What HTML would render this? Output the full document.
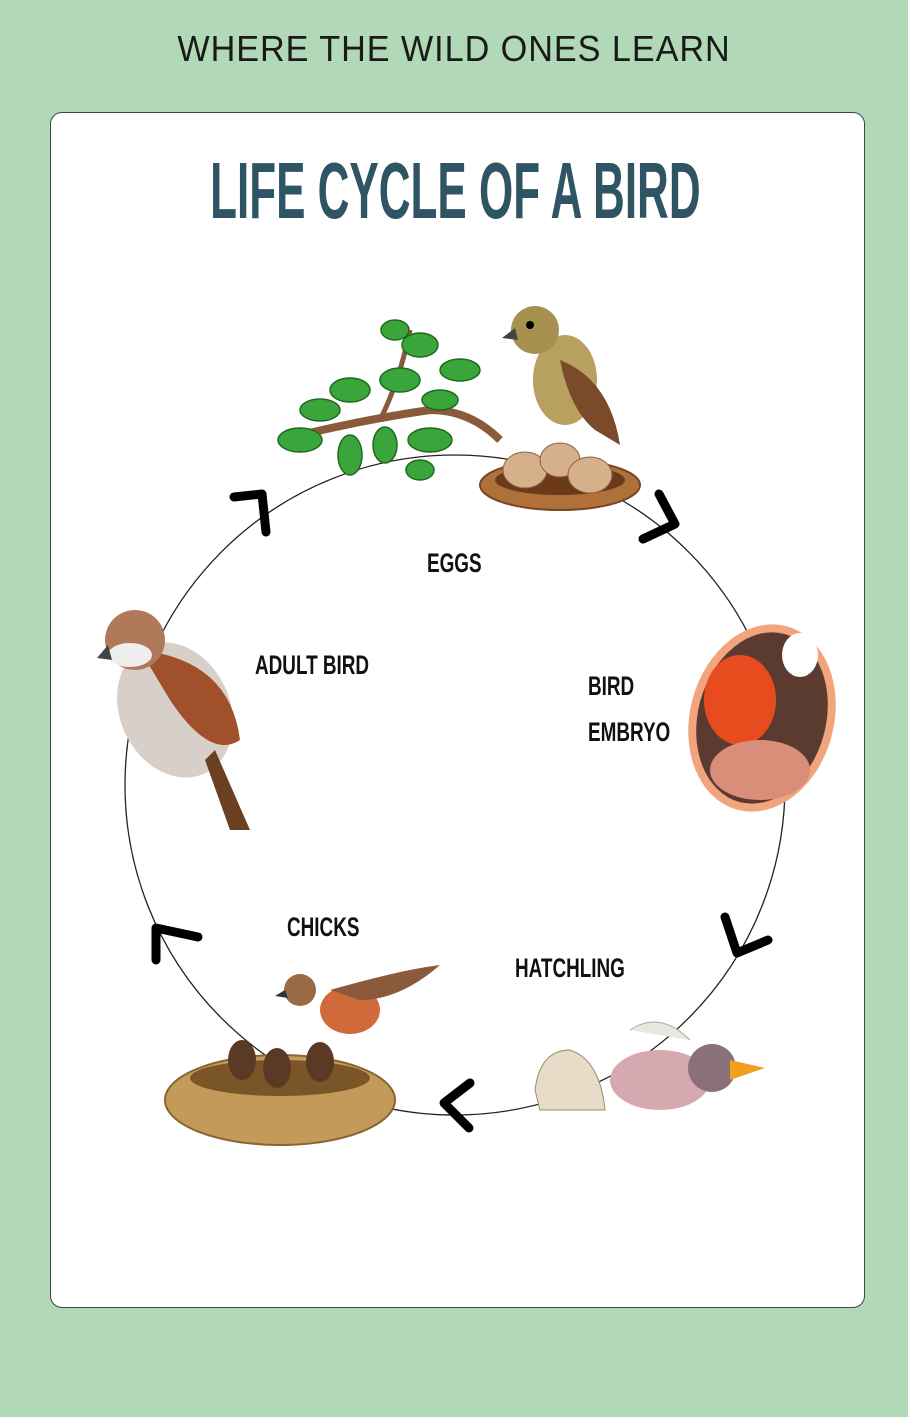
<!DOCTYPE html>
<html><head><meta charset="utf-8"><style>
html,body{margin:0;padding:0}
body{width:908px;height:1417px;background:#b1d9b8;position:relative;overflow:hidden;font-family:"Liberation Sans",sans-serif}
.hdr{position:absolute;top:28px;left:0;width:908px;text-align:center;font-size:36px;letter-spacing:1px;color:#1a1a1a;transform:scaleX(0.95)}
.card{position:absolute;left:50px;top:112px;width:813px;height:1194px;background:#fff;border:1px solid #444;border-radius:12px}
.title{position:absolute;top:145px;left:0;width:908px;text-align:center;font-size:80px;font-weight:bold;color:#2f5564;transform:scaleX(0.55);transform-origin:457px 0}
.lb{position:absolute;font-size:27px;font-weight:bold;color:#111;line-height:46px;transform:scaleX(0.7);transform-origin:0 0;white-space:nowrap}
svg{position:absolute;left:0;top:0}
</style></head><body>
<div class="hdr">WHERE THE WILD ONES LEARN</div>
<div class="card"></div>
<div class="title">LIFE CYCLE OF A BIRD</div>
<svg width="908" height="1417" viewBox="0 0 908 1417">
<circle cx="455" cy="785" r="330" fill="none" stroke="#222" stroke-width="1.3"/>
<g fill="none" stroke="#000" stroke-width="9" stroke-linecap="round" stroke-linejoin="round">
<polyline points="234,497 262,494 266,532"/>
<polyline points="659,494 675,524 643,539"/>
<polyline points="725,917 737,953 768,940"/>
<polyline points="470,1083 444,1103 469,1128"/>
<polyline points="156,960 156,928 198,937"/>
</g>
<g>
<path d="M280,440 Q360,420 430,410 Q470,410 500,440" stroke="#8a5a3a" stroke-width="8" fill="none"/>
<path d="M380,420 Q400,380 410,330" stroke="#8a5a3a" stroke-width="5" fill="none"/>
<g fill="#3aa53a" stroke="#1e6a1e" stroke-width="1.5">
<ellipse cx="300" cy="440" rx="22" ry="12"/><ellipse cx="320" cy="410" rx="20" ry="11"/>
<ellipse cx="350" cy="390" rx="20" ry="12"/><ellipse cx="350" cy="455" rx="12" ry="20"/>
<ellipse cx="400" cy="380" rx="20" ry="12"/><ellipse cx="420" cy="345" rx="18" ry="12"/>
<ellipse cx="395" cy="330" rx="14" ry="10"/><ellipse cx="460" cy="370" rx="20" ry="11"/>
<ellipse cx="430" cy="440" rx="22" ry="12"/><ellipse cx="420" cy="470" rx="14" ry="10"/>
<ellipse cx="385" cy="445" rx="12" ry="18"/><ellipse cx="440" cy="400" rx="18" ry="10"/>
</g>
</g>
<ellipse cx="560" cy="485" rx="80" ry="25" fill="#b0703a" stroke="#7a4520" stroke-width="2"/>
<ellipse cx="560" cy="480" rx="65" ry="15" fill="#6b3a18"/>
<ellipse cx="525" cy="470" rx="22" ry="18" fill="#d5b08a" stroke="#8a6040"/>
<ellipse cx="560" cy="460" rx="20" ry="17" fill="#d5b08a" stroke="#8a6040"/>
<ellipse cx="590" cy="475" rx="22" ry="18" fill="#d5b08a" stroke="#8a6040"/>
<ellipse cx="565" cy="380" rx="32" ry="45" fill="#b8a060"/>
<path d="M560,360 Q610,380 620,445 L595,430 Q570,410 560,360Z" fill="#7b4a2a"/>
<circle cx="535" cy="330" r="24" fill="#a89050"/>
<polygon points="515,328 502,338 518,340" fill="#444"/>
<circle cx="530" cy="325" r="4" fill="#000"/>
<ellipse cx="762" cy="718" rx="72" ry="95" transform="rotate(15 762 718)" fill="#f2a47c"/>
<ellipse cx="762" cy="718" rx="64" ry="87" transform="rotate(15 762 718)" fill="#5b3a30"/>
<ellipse cx="740" cy="700" rx="36" ry="45" fill="#e84b1e"/>
<ellipse cx="800" cy="655" rx="18" ry="22" fill="#fff"/>
<ellipse cx="760" cy="770" rx="50" ry="30" fill="#d88e78"/>
<path d="M535,1090 Q540,1050 570,1050 Q600,1060 605,1110 L540,1110Z" fill="#e8dcc8" stroke="#9a8a70"/>
<ellipse cx="660" cy="1080" rx="50" ry="30" fill="#d6a8b0"/>
<circle cx="712" cy="1068" r="24" fill="#8a7078"/>
<polygon points="730,1060 765,1068 730,1080" fill="#f0a020"/>
<path d="M630,1030 Q660,1010 690,1040" fill="#e8e8e0" stroke="#aaa"/>
<ellipse cx="280" cy="1100" rx="115" ry="45" fill="#c49a5a" stroke="#8a6530" stroke-width="2"/>
<ellipse cx="280" cy="1078" rx="90" ry="18" fill="#7a5528"/>
<g fill="#5a3a25"><ellipse cx="242" cy="1060" rx="14" ry="20"/><ellipse cx="277" cy="1068" rx="14" ry="20"/><ellipse cx="320" cy="1062" rx="14" ry="20"/></g>
<ellipse cx="350" cy="1010" rx="30" ry="24" fill="#d06a3a"/>
<path d="M330,990 Q400,970 440,965 Q400,1000 360,1000Z" fill="#8a5a3a"/>
<circle cx="300" cy="990" r="16" fill="#9a6a45"/>
<polygon points="285,990 275,996 288,998" fill="#333"/>
<ellipse cx="175" cy="710" rx="55" ry="70" transform="rotate(-25 175 710)" fill="#d8d0c8"/>
<path d="M140,650 Q230,660 240,740 Q210,760 170,700Z" fill="#a0502a"/>
<path d="M215,750 L250,830 L230,830 L205,760Z" fill="#6a4020"/>
<circle cx="135" cy="640" r="30" fill="#b07a5a"/>
<ellipse cx="130" cy="655" rx="22" ry="12" fill="#eee"/>
<polygon points="108,645 97,658 112,660" fill="#444"/>
</svg>
<div class="lb" style="left:427px;top:540px">EGGS</div>
<div class="lb" style="left:255px;top:642px">ADULT BIRD</div>
<div class="lb" style="left:588px;top:663px">BIRD<br>EMBRYO</div>
<div class="lb" style="left:287px;top:904px">CHICKS</div>
<div class="lb" style="left:515px;top:945px">HATCHLING</div>
</body></html>
